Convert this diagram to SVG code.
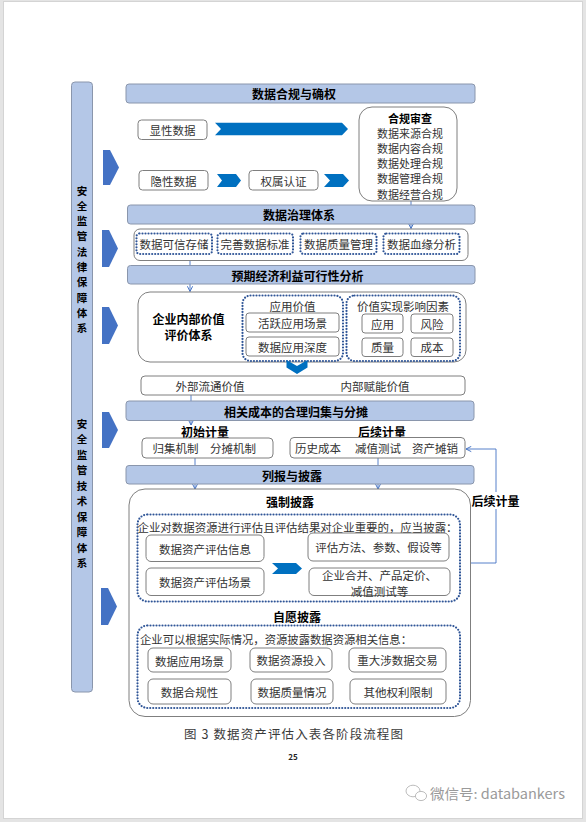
<svg xmlns="http://www.w3.org/2000/svg" width="586" height="822" viewBox="0 0 586 822">
<defs>
<style>
.bar{fill:#b4c7e7;stroke:#8a96ac;stroke-width:1}
.box{fill:#fff;stroke:#7f7f7f;stroke-width:1}
.dot{fill:none;stroke:#2f5597;stroke-width:2.2;stroke-dasharray:0 3;stroke-linecap:round}
.t{font-family:"Noto Sans CJK SC","Noto Sans",sans-serif;font-size:11.5px;fill:#333;text-anchor:middle;dominant-baseline:central}
.b{font-weight:bold;fill:#000;font-size:12px}
.s{font-size:10.5px}
.r{font-size:11px}
.l{text-anchor:start}
.band{fill:#0070c0}
.arr{fill:#4472c4}
.conn{stroke:#4472c4;stroke-width:0.9;fill:none}
</style>
<marker id="ah" viewBox="0 0 8 8" refX="7" refY="4" markerWidth="7" markerHeight="7" markerUnits="userSpaceOnUse" orient="auto">
<path d="M1,1 L7,4 L1,7" fill="none" stroke="#4472c4" stroke-width="1.1"/>
</marker>
</defs>
<rect x="0" y="0" width="586" height="822" fill="#e4e4e4"/>
<rect x="3.5" y="1.5" width="579" height="817" fill="#fff" stroke="#d4d4d4"/>

<g id="connectors">
<line class="conn" x1="411" y1="201" x2="411" y2="228.5" marker-end="url(#ah)"/>
<line class="conn" x1="190" y1="261" x2="190" y2="291.5" marker-end="url(#ah)"/>
<line class="conn" x1="191" y1="395" x2="191" y2="425" marker-end="url(#ah)"/>
<line class="conn" x1="195" y1="458" x2="195" y2="489" marker-end="url(#ah)"/>
<line class="conn" x1="378" y1="458" x2="378" y2="489" marker-end="url(#ah)"/>
<polyline class="conn" points="470.5,563 496,563 496,509"/>
<polyline class="conn" points="496,492 496,449 466,449" marker-end="url(#ah)"/>
</g>

<g id="side-bar">
<rect class="bar" x="71.5" y="82" width="21" height="610" rx="3.5"/>
<g class="t b s">
<text x="82" y="190">安</text><text x="82" y="205.3">全</text><text x="82" y="220.6">监</text><text x="82" y="235.9">管</text><text x="82" y="251.2">法</text><text x="82" y="266.5">律</text><text x="82" y="281.8">保</text><text x="82" y="297.1">障</text><text x="82" y="312.4">体</text><text x="82" y="327.7">系</text>
<text x="82" y="423">安</text><text x="82" y="438.5">全</text><text x="82" y="454">监</text><text x="82" y="469.5">管</text><text x="82" y="485">技</text><text x="82" y="500.5">术</text><text x="82" y="516">保</text><text x="82" y="531.5">障</text><text x="82" y="547">体</text><text x="82" y="562.5">系</text>
</g>
</g>

<g id="side-arrows">
<polygon class="arr" points="103,150 110,150 119,167.5 110,185 103,185"/>
<polygon class="arr" points="102,230 109,230 118,248.5 109,267 102,267"/>
<polygon class="arr" points="102,307 109,307 118,325.5 109,344 102,344"/>
<polygon class="arr" points="102,412 109,412 118,430 109,448 102,448"/>
<polygon class="arr" points="101,588 108,588 117,606.5 108,625 101,625"/>
</g>

<g id="bar-compliance"><rect class="bar" x="126" y="84" width="349" height="19" rx="3"/><text class="t b" x="294" y="93.5">数据合规与确权</text></g>
<g id="bar-governance"><rect class="bar" x="127.5" y="205" width="347.5" height="19" rx="3"/><text class="t b" x="299" y="214.5">数据治理体系</text></g>
<g id="bar-benefit"><rect class="bar" x="127.5" y="265.5" width="347.5" height="18.5" rx="3"/><text class="t b" x="297.5" y="275">预期经济利益可行性分析</text></g>
<g id="bar-cost"><rect class="bar" x="126" y="401" width="348" height="19.5" rx="3"/><text class="t b" x="296" y="411">相关成本的合理归集与分摊</text></g>
<g id="bar-disclosure"><rect class="bar" x="126" y="465.5" width="348" height="18.5" rx="3"/><text class="t b" x="292" y="475">列报与披露</text></g>

<g id="explicit"><rect class="box" x="138" y="120" width="69" height="19.5" rx="3.5"/><text class="t" x="172.5" y="130">显性数据</text></g>
<polygon id="band-main" class="band" points="215,122.7 342,122.7 348,129 342,135.3 215,135.3 221,129"/>
<g id="implicit"><rect class="box" x="139" y="170.5" width="69" height="19.5" rx="3.5"/><text class="t" x="173.5" y="180.5">隐性数据</text></g>
<polygon id="chev-1" class="band" points="217,174 236,174 241,180.5 236,187 217,187 222,180.5"/>
<g id="ownership"><rect class="box" x="249" y="170.5" width="69" height="19.5" rx="3.5"/><text class="t" x="283.5" y="180.5">权属认证</text></g>
<polygon id="chev-2" class="band" points="324,174 343,174 349,180.5 343,187 324,187 330,180.5"/>

<g id="review">
<rect class="box" x="359" y="107" width="98" height="94" rx="13"/>
<text class="t b r" x="410" y="117.5">合规审查</text>
<text class="t r" x="410" y="132.5">数据来源合规</text>
<text class="t r" x="410" y="147.8">数据内容合规</text>
<text class="t r" x="410" y="163.1">数据处理合规</text>
<text class="t r" x="410" y="178.4">数据管理合规</text>
<text class="t r" x="410" y="193.7">数据经营合规</text>
</g>

<g id="governance">
<rect class="box" x="134" y="229" width="334" height="31.5" rx="6"/>
<rect class="dot" x="136.5" y="233.5" width="75.5" height="20.5" rx="3"/><text class="t" x="174" y="244">数据可信存储</text>
<rect class="dot" x="217.5" y="233.5" width="75.5" height="20.5" rx="3"/><text class="t" x="255" y="244">完善数据标准</text>
<rect class="dot" x="300.5" y="233.5" width="76" height="20.5" rx="3"/><text class="t" x="338.5" y="244">数据质量管理</text>
<rect class="dot" x="383.5" y="233.5" width="76" height="20.5" rx="3"/><text class="t" x="421.5" y="244">数据血缘分析</text>
</g>

<g id="internal-value">
<rect class="box" x="138" y="292" width="328" height="70" rx="12"/>
<text class="t b" x="188.5" y="318.5">企业内部价值</text>
<text class="t b" x="188.5" y="334.5">评价体系</text>
<rect class="dot" x="242.5" y="295.5" width="100.5" height="65.5" rx="8"/>
<text class="t" x="292.5" y="305.5">应用价值</text>
<rect class="box" x="246" y="313" width="93" height="19" rx="3"/><text class="t" x="292.5" y="322.5">活跃应用场景</text>
<rect class="box" x="246" y="337" width="93" height="19" rx="3"/><text class="t" x="292.5" y="346.5">数据应用深度</text>
<rect class="dot" x="346.5" y="295.5" width="113.5" height="65.5" rx="8"/>
<text class="t" x="403" y="305.5">价值实现影响因素</text>
<rect class="box" x="362" y="314" width="41" height="19" rx="3"/><text class="t" x="382.5" y="323.5">应用</text>
<rect class="box" x="411" y="314" width="42" height="19" rx="3"/><text class="t" x="432" y="323.5">风险</text>
<rect class="box" x="362" y="338" width="41" height="18.5" rx="3"/><text class="t" x="382.5" y="347">质量</text>
<rect class="box" x="411" y="338" width="42" height="18.5" rx="3"/><text class="t" x="432" y="347">成本</text>
</g>
<polygon id="chev-down" class="band" points="286.5,360 297,366 307.5,360 307.5,367.5 297,374 286.5,367.5"/>

<g id="value-out">
<rect class="box" x="141" y="376" width="324" height="19" rx="4"/>
<text class="t" x="210" y="386">外部流通价值</text>
<text class="t" x="375" y="386">内部赋能价值</text>
</g>

<text class="t b" x="205" y="431">初始计量</text>
<text class="t b" x="382" y="431">后续计量</text>
<g id="initial">
<rect class="box" x="142" y="438" width="131" height="20" rx="4"/>
<text class="t" x="175.5" y="448">归集机制</text>
<text class="t" x="233" y="448">分摊机制</text>
</g>
<g id="subsequent">
<rect class="box" x="290" y="437.5" width="175" height="20.5" rx="4"/>
<text class="t" x="318" y="448">历史成本</text>
<text class="t" x="378" y="448">减值测试</text>
<text class="t" x="435" y="448">资产摊销</text>
</g>
<text class="t b" x="495.5" y="500.5">后续计量</text>

<g id="disclosure">
<rect class="box" x="129" y="489" width="341.5" height="227.5" rx="16"/>
<text class="t b" x="290" y="501">强制披露</text>
<rect class="dot" x="137.5" y="514.5" width="322.5" height="87" rx="10"/>
<text class="t l" x="137.5" y="527" textLength="320" lengthAdjust="spacingAndGlyphs">企业对数据资源进行评估且评估结果对企业重要的，应当披露：</text>
<rect class="box" x="146" y="535" width="118" height="26.5" rx="5"/><text class="t" x="205" y="548.5">数据资产评估信息</text>
<rect class="box" x="146" y="568" width="118" height="27.5" rx="5"/><text class="t" x="205" y="582">数据资产评估场景</text>
<polygon class="band" points="272,563 296,563 302,568.5 296,574 272,574 278,568.5"/>
<rect class="box" x="308" y="533" width="141" height="28" rx="5"/><text class="t" x="378.5" y="547">评估方法、参数、假设等</text>
<rect class="box" x="309" y="568" width="141" height="27.5" rx="5"/>
<text class="t" x="379.5" y="575">企业合并、产品定价、</text>
<text class="t" x="379.5" y="591">减值测试等</text>

<text class="t b" x="297" y="616">自愿披露</text>
<rect class="dot" x="137.5" y="625.5" width="322.5" height="82.5" rx="10"/>
<text class="t l" x="140" y="639" textLength="272" lengthAdjust="spacingAndGlyphs">企业可以根据实际情况，资源披露数据资源相关信息：</text>
<rect class="box" x="148" y="648" width="83" height="24" rx="5"/><text class="t" x="189.5" y="660.5">数据应用场景</text>
<rect class="box" x="250" y="648" width="82" height="24" rx="5"/><text class="t" x="291" y="659.5">数据资源投入</text>
<rect class="box" x="349" y="648" width="97" height="24" rx="5"/><text class="t" x="397.5" y="660">重大涉数据交易</text>
<rect class="box" x="148" y="679" width="83" height="25" rx="5"/><text class="t" x="189.5" y="691.5">数据合规性</text>
<rect class="box" x="251" y="679" width="82" height="25" rx="5"/><text class="t" x="292" y="691.5">数据质量情况</text>
<rect class="box" x="350" y="679" width="96" height="25" rx="5"/><text class="t" x="398" y="691.5">其他权利限制</text>
</g>

<text class="t l" x="184" y="733" textLength="219" lengthAdjust="spacing" style="font-size:12.5px;fill:#3a3a3a">图 3 数据资产评估入表各阶段流程图</text>
<text class="t" x="293" y="756" style="font-size:8px;font-weight:bold;fill:#222">25</text>

<g id="wechat-mark">
<ellipse cx="413" cy="791" rx="7" ry="5.8" fill="none" stroke="#bdbdbd" stroke-width="1"/>
<ellipse cx="421" cy="796" rx="5.6" ry="4.6" fill="#fff" stroke="#bdbdbd" stroke-width="1"/>
<text class="t l" x="430" y="793" textLength="135" lengthAdjust="spacingAndGlyphs" style="font-size:13.5px;fill:#9a9a9a">微信号: databankers</text>
</g>
</svg>
